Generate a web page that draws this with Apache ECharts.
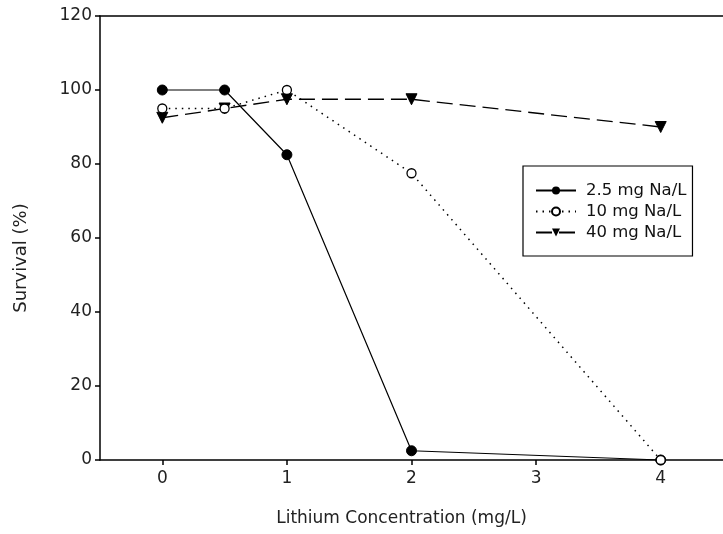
<!DOCTYPE html>
<html>
<head>
<meta charset="utf-8">
<script src="https://cdn.jsdelivr.net/npm/echarts@6/dist/echarts.min.js"></script>
<style>html,body{margin:0;padding:0;background:#fff;}#c{width:723px;height:534px;}</style>
</head>
<body>
<div id="c"></div>
<script>
const xValues = [0, 0.5, 1, 2, 4];
const na25 = [100, 100, 82.5, 2.5, 0];
const na10 = [95, 95, 100, 77.5, 0];
const na40 = [92.5, 95, 97.5, 97.5, 90];
const seriesNames = ['2.5 mg Na/L', '10 mg Na/L', '40 mg Na/L'];
const xTicks = [0, 1, 2, 3, 4];
const yTicks = [0, 20, 40, 60, 80, 100, 120];

const pairs = arr => xValues.map((x, i) => [x, arr[i]]);
const font = 'DejaVu Sans, Liberation Sans, sans-serif';
const chart = echarts.init(document.getElementById('c'));
chart.setOption({
  animation: false,
  backgroundColor: '#fff',
  grid: { left: 100, right: -10, top: 16, bottom: 74 },
  legend: {
    orient: 'vertical',
    left: 523, top: 166,
    padding: [16, 6, 15, 12],
    borderColor: '#000', borderWidth: 1.2,
    itemWidth: 40, itemHeight: 10, itemGap: 4,
    textStyle: { fontFamily: font, fontSize: 16.5, color: '#111', padding: [0, 0, 0, 5] },
    data: seriesNames
  },
  xAxis: [{
    type: 'value', min: -0.5, max: 4.5,
    name: 'Lithium Concentration (mg/L)', nameLocation: 'middle', nameGap: 50,
    nameTextStyle: { fontFamily: font, fontSize: 17, color: '#222', padding: [0, 20, 0, 0] },
    axisLine: { onZero: false, lineStyle: { color: '#000', width: 1.5 } },
    axisTick: { show: true, inside: false, length: 5, lineStyle: { color: '#000', width: 1.5 },
      customValues: xTicks },
    axisLabel: { fontFamily: font, fontSize: 17, color: '#222', margin: 10,
      customValues: xTicks },
    splitLine: { show: false }
  }, {
    type: 'value', min: -0.5, max: 4.5, position: 'top',
    axisLine: { show: true, onZero: false, lineStyle: { color: '#000', width: 1.5 } },
    axisTick: { show: false }, axisLabel: { show: false }, splitLine: { show: false }
  }],
  yAxis: {
    type: 'value', min: 0, max: 120, interval: 20,
    name: 'Survival (%)', nameLocation: 'middle', nameGap: 70, nameRotate: 90,
    nameTextStyle: { fontFamily: font, fontSize: 18, color: '#222', padding: [0, 40, 0, 0] },
    axisLine: { show: true, onZero: false, lineStyle: { color: '#000', width: 1.5 } },
    axisTick: { show: true, length: 5, lineStyle: { color: '#000', width: 1.5 } },
    axisLabel: { fontFamily: font, fontSize: 17, color: '#222', margin: 8 },
    splitLine: { show: false }
  },
  series: [{
    name: seriesNames[0], type: 'line', data: pairs(na25),
    symbol: 'circle', symbolSize: 10,
    itemStyle: { color: '#000', borderColor: '#000' },
    lineStyle: { color: '#000', width: 1.2, type: 'solid' }, z: 2
  }, {
    name: seriesNames[1], type: 'line', data: pairs(na10),
    symbol: 'circle', symbolSize: 9,
    itemStyle: { color: '#fff', borderColor: '#000', borderWidth: 1.3 },
    lineStyle: { color: '#000', width: 1.5, type: [1.5, 5] }, z: 3
  }, {
    name: seriesNames[2], type: 'line', data: pairs(na40),
    symbol: 'triangle', symbolRotate: 180, symbolSize: 11,
    itemStyle: { color: '#000', borderColor: '#000' },
    lineStyle: { color: '#000', width: 1.3, type: [16, 7] }, z: 1
  }]
});
</script>
</body>
</html>
